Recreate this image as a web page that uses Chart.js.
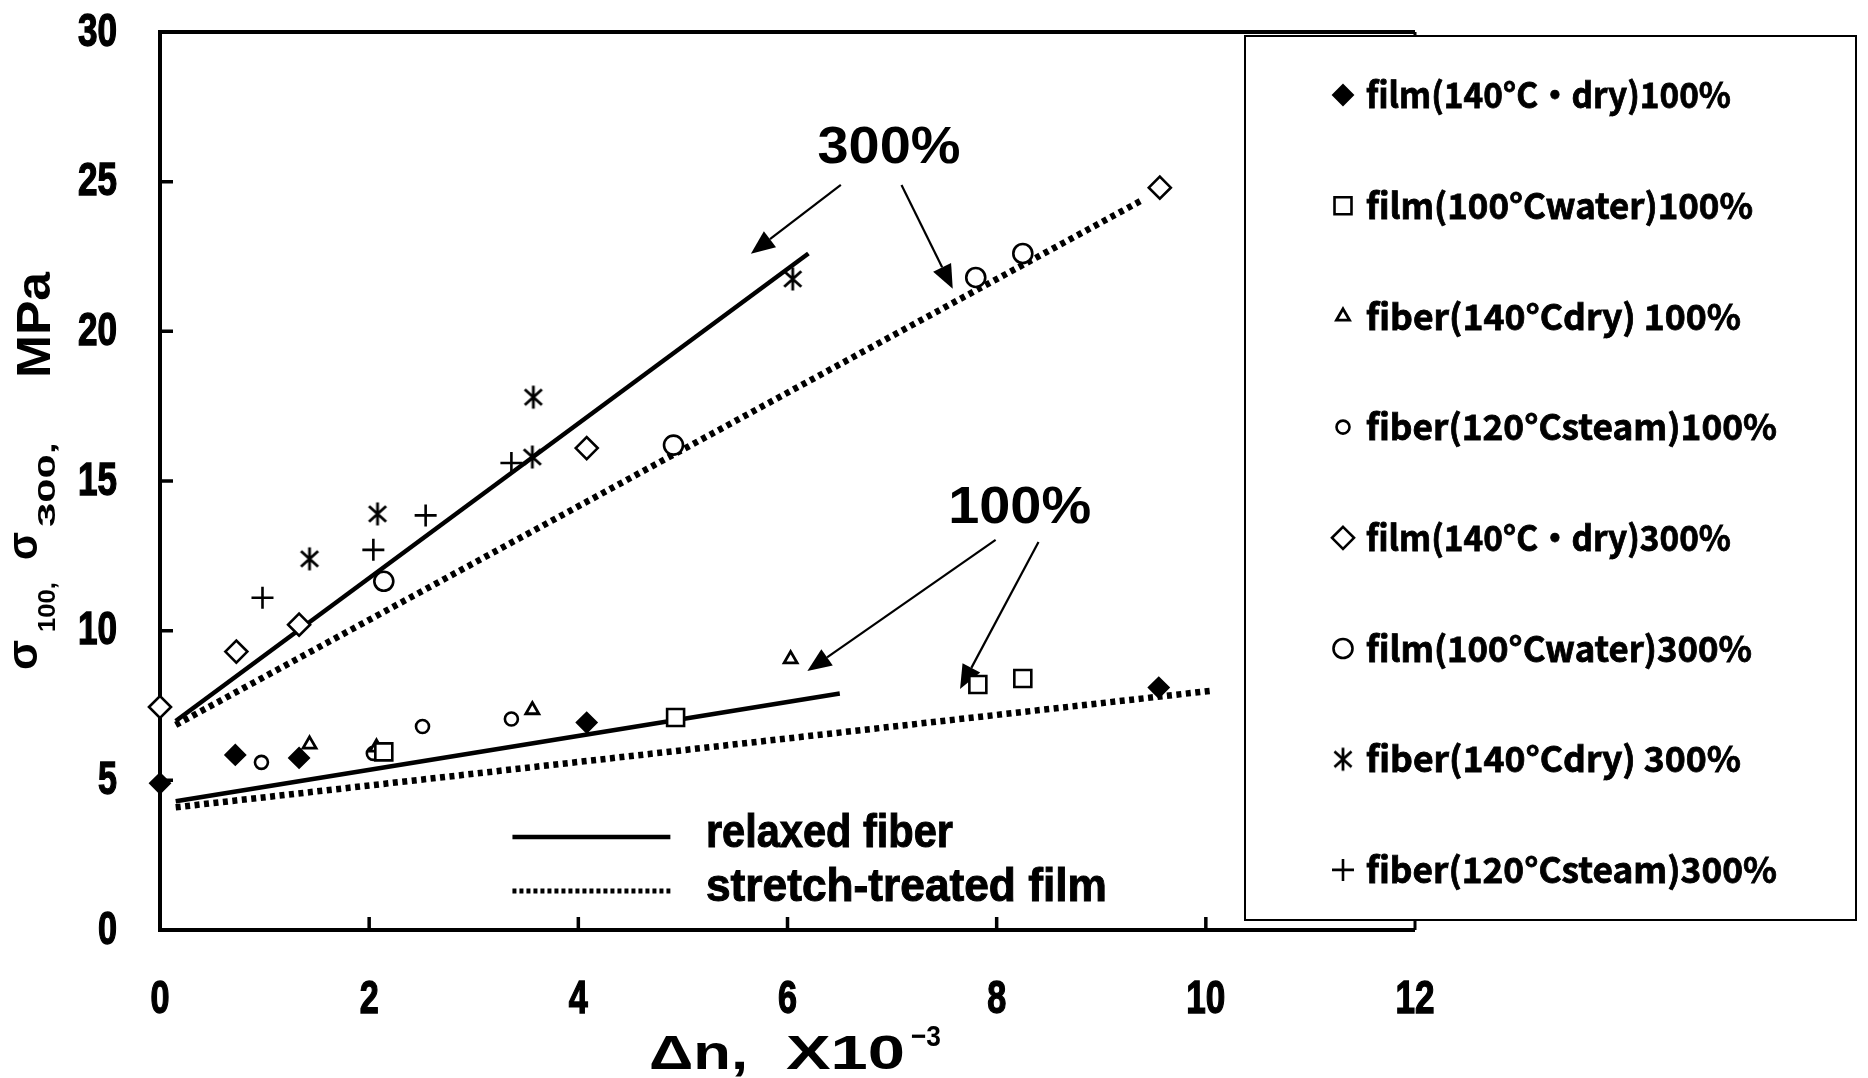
<!DOCTYPE html>
<html>
<head>
<meta charset="utf-8">
<script src="https://cdn.jsdelivr.net/npm/chart.js@4.4.1/dist/chart.umd.min.js"></script>
<style>
  html, body { margin: 0; padding: 0; background: #fff; }
  #wrap { width: 1868px; height: 1078px; position: relative; }
</style>
</head>
<body>
<div id="wrap"><canvas id="chart" width="1868" height="1078"></canvas></div>
<script>
// 軸
const xTicks = [0, 2, 4, 6, 8, 10, 12];
const yTicks = [0, 5, 10, 15, 20, 25, 30];

// 系列名 (凡例の順)
const seriesNames = [
  'film(140°C・dry)100%',
  'film(100°Cwater)100%',
  'fiber(140°Cdry) 100%',
  'fiber(120°Csteam)100%',
  'film(140°C・dry)300%',
  'film(100°Cwater)300%',
  'fiber(140°Cdry) 300%',
  'fiber(120°Csteam)300%'
];

// 100% データ
const filmDry100X = [0, 0.72, 1.33, 4.08, 9.55];
const filmDry100Y = [4.9, 5.85, 5.75, 6.93, 8.1];
const filmWater100X = [2.14, 4.93, 7.82, 8.25];
const filmWater100Y = [5.95, 7.1, 8.2, 8.4];
const fiberDry100X = [1.43, 2.07, 3.56, 6.03];
const fiberDry100Y = [6.2, 6.1, 7.35, 9.05];
const fiberSteam100X = [0.97, 2.04, 2.51, 3.36];
const fiberSteam100Y = [5.6, 5.9, 6.8, 7.05];

// 300% データ
const filmDry300X = [0, 0.73, 1.33, 4.08, 9.56];
const filmDry300Y = [7.45, 9.3, 10.2, 16.1, 24.8];
const filmWater300X = [2.14, 4.91, 7.8, 8.25];
const filmWater300Y = [11.65, 16.2, 21.8, 22.6];
const fiberDry300X = [1.43, 2.08, 3.56, 3.57, 6.05];
const fiberDry300Y = [12.4, 13.9, 15.8, 17.8, 21.75];
const fiberSteam300X = [0.98, 2.04, 2.54, 3.36];
const fiberSteam300Y = [11.1, 12.7, 13.85, 15.6];

// 近似直線
const fiber300LineX = [0.15, 6.2];
const fiber300LineY = [6.98, 22.6];
const film300LineX = [0.15, 9.4];
const film300LineY = [6.85, 24.4];
const fiber100LineX = [0.15, 6.5];
const fiber100LineY = [4.3, 7.9];
const film100LineX = [0.15, 10.07];
const film100LineY = [4.1, 8.0];

// 注記 (データ座標)
const noteLabels = ['300%', '100%'];
const noteX = [6.97, 8.22];
const noteY = [26.1, 14.07];
const arrowFromX = [6.51, 7.09, 7.99, 8.40];
const arrowFromY = [24.89, 24.89, 13.03, 12.96];
const arrowToX = [5.65, 7.58, 6.19, 7.65];
const arrowToY = [22.59, 21.42, 8.65, 8.05];

// 線の凡例
const lineLegendNames = ['relaxed fiber', 'stretch-treated film'];
const lineLegendX = [3.37, 4.88];
const lineLegendY = [3.11, 1.3];
const lineLegendTextX = 5.22;

function pts(xs, ys) {
  return xs.map((x, i) => ({ x: x, y: ys[i] }));
}

// 6本足のアスタリスク
function makeAsterisk(r, lw) {
  const c = document.createElement('canvas');
  const s = Math.ceil(2 * r + lw + 2);
  c.width = s; c.height = s;
  const g = c.getContext('2d');
  const m = s / 2;
  g.strokeStyle = '#000';
  g.lineWidth = lw;
  g.beginPath();
  g.moveTo(m, m - r); g.lineTo(m, m + r);
  const a = 48 * Math.PI / 180;
  g.moveTo(m - Math.sin(a) * r, m - Math.cos(a) * r); g.lineTo(m + Math.sin(a) * r, m + Math.cos(a) * r);
  g.moveTo(m + Math.sin(a) * r, m - Math.cos(a) * r); g.lineTo(m - Math.sin(a) * r, m + Math.cos(a) * r);
  g.stroke();
  return c;
}
const asteriskImg = makeAsterisk(11.5, 2.8);

const markerStyles = [
  { pointStyle: 'rectRot', radius: 10, fill: '#000', bw: 2 },
  { pointStyle: 'rect', radius: 12, fill: '#fff', bw: 2.6 },
  { pointStyle: 'triangle', radius: 7.5, fill: '#fff', bw: 2.8 },
  { pointStyle: 'circle', radius: 6.5, fill: '#fff', bw: 2.6 },
  { pointStyle: 'rectRot', radius: 11, fill: '#fff', bw: 2.6 },
  { pointStyle: 'circle', radius: 9.5, fill: '#fff', bw: 2.6 },
  { pointStyle: asteriskImg, radius: 11.5, fill: '#fff', bw: 2.8 },
  { pointStyle: 'cross', radius: 11, fill: '#fff', bw: 2.6 }
];

const seriesData = [
  pts(filmDry100X, filmDry100Y),
  pts(filmWater100X, filmWater100Y),
  pts(fiberDry100X, fiberDry100Y),
  pts(fiberSteam100X, fiberSteam100Y),
  pts(filmDry300X, filmDry300Y),
  pts(filmWater300X, filmWater300Y),
  pts(fiberDry300X, fiberDry300Y),
  pts(fiberSteam300X, fiberSteam300Y)
];

const solidLine = { borderColor: '#000', borderWidth: 4.5 };
const dotLine = { borderColor: '#000', borderWidth: 6.5, borderDash: [5, 4.5] };

const lineSets = [
  Object.assign({ data: pts(fiber300LineX, fiber300LineY) }, solidLine),
  Object.assign({ data: pts(film300LineX, film300LineY) }, dotLine),
  Object.assign({ data: pts(fiber100LineX, fiber100LineY) }, solidLine),
  Object.assign({ data: pts(film100LineX, film100LineY) }, dotLine)
].map(d => Object.assign(d, {
  type: 'line', showLine: true, pointRadius: 0, fill: false, order: 2,
  borderCapStyle: 'butt', tension: 0, clip: false
}));

const pointSets = seriesData.map((d, i) => ({
  label: seriesNames[i],
  data: d,
  showLine: false,
  clip: false,
  pointStyle: markerStyles[i].pointStyle,
  pointRadius: markerStyles[i].radius,
  pointBackgroundColor: markerStyles[i].fill,
  pointBorderColor: '#000',
  pointBorderWidth: markerStyles[i].bw,
  order: 1
}));

// 横方向に伸縮して幅を合わせる
function fitText(ctx, text, x, y, width, stroke) {
  const w = ctx.measureText(text).width;
  ctx.save();
  ctx.translate(x, y);
  ctx.scale(width / w, 1);
  ctx.fillText(text, 0, 0);
  if (stroke) {
    ctx.lineWidth = stroke;
    ctx.strokeStyle = ctx.fillStyle;
    ctx.strokeText(text, 0, 0);
  }
  ctx.restore();
}

function drawArrow(ctx, x1, y1, x2, y2) {
  const a = Math.atan2(y2 - y1, x2 - x1);
  const len = 24, half = 10;
  const bx = x2 - Math.cos(a) * len, by = y2 - Math.sin(a) * len;
  ctx.beginPath();
  ctx.moveTo(x1, y1);
  ctx.lineTo(bx, by);
  ctx.lineWidth = 2.2;
  ctx.stroke();
  ctx.beginPath();
  ctx.moveTo(x2, y2);
  ctx.lineTo(bx + Math.sin(a) * half, by - Math.cos(a) * half);
  ctx.lineTo(bx - Math.sin(a) * half, by + Math.cos(a) * half);
  ctx.closePath();
  ctx.fill();
}

function drawMarker(ctx, style, x, y) {
  const r = style.radius;
  ctx.save();
  ctx.lineWidth = style.bw;
  ctx.fillStyle = style.fill;
  ctx.strokeStyle = '#000';
  ctx.beginPath();
  if (style.pointStyle === 'rectRot') {
    ctx.moveTo(x, y - r); ctx.lineTo(x + r, y); ctx.lineTo(x, y + r); ctx.lineTo(x - r, y); ctx.closePath();
    ctx.fill(); ctx.stroke();
  } else if (style.pointStyle === 'rect') {
    const s = r * Math.SQRT1_2;
    ctx.rect(x - s, y - s, 2 * s, 2 * s); ctx.fill(); ctx.stroke();
  } else if (style.pointStyle === 'triangle') {
    ctx.moveTo(x, y - r); ctx.lineTo(x + r * 0.87, y + r * 0.5); ctx.lineTo(x - r * 0.87, y + r * 0.5); ctx.closePath();
    ctx.fill(); ctx.stroke();
  } else if (style.pointStyle === 'circle') {
    ctx.arc(x, y, r, 0, Math.PI * 2); ctx.fill(); ctx.stroke();
  } else if (style.pointStyle === 'cross') {
    ctx.moveTo(x - r, y); ctx.lineTo(x + r, y);
    ctx.moveTo(x, y - r); ctx.lineTo(x, y + r);
    ctx.stroke();
  } else {
    const img = style.pointStyle;
    ctx.drawImage(img, x - img.width / 2, y - img.height / 2);
  }
  ctx.restore();
}

const tickFontCss = 'bold 46px "Liberation Sans", Arial, sans-serif';

const decor = {
  id: 'decor',
  beforeDatasetsDraw(chart) {
    const ctx = chart.ctx;
    const xs = chart.scales.x, ys = chart.scales.y;
    const a = chart.chartArea;
    ctx.save();
    ctx.strokeStyle = '#000';
    ctx.fillStyle = '#000';
    ctx.lineCap = 'butt';
    // 枠
    ctx.lineWidth = 4;
    ctx.beginPath();
    ctx.moveTo(a.left, a.top); ctx.lineTo(a.right, a.top);
    ctx.moveTo(a.left, a.top - 2); ctx.lineTo(a.left, a.bottom + 2);
    ctx.moveTo(a.left - 2, a.bottom); ctx.lineTo(a.right, a.bottom);
    ctx.stroke();
    ctx.lineWidth = 3;
    ctx.beginPath();
    ctx.moveTo(a.right, a.top); ctx.lineTo(a.right, a.bottom);
    ctx.stroke();
    // 内向きの目盛り
    ctx.lineWidth = 3.5;
    ctx.beginPath();
    yTicks.slice(1, -1).forEach(v => {
      const py = ys.getPixelForValue(v);
      ctx.moveTo(a.left, py); ctx.lineTo(a.left + 13, py);
    });
    xTicks.slice(1, -1).forEach(v => {
      const px = xs.getPixelForValue(v);
      ctx.moveTo(px, a.bottom); ctx.lineTo(px, a.bottom - 13);
    });
    ctx.stroke();

    // 目盛りラベル (細身の太字)
    ctx.font = tickFontCss;
    ctx.textAlign = 'left';
    ctx.textBaseline = 'middle';
    yTicks.forEach(v => {
      const t = String(v);
      const w = t.length === 1 ? 19 : 39;
      fitText(ctx, t, 117 - w, ys.getPixelForValue(v) + 1, w, 1.4);
    });
    ctx.textBaseline = 'top';
    xTicks.forEach(v => {
      const t = String(v);
      const w = t.length === 1 ? 19 : 39;
      fitText(ctx, t, xs.getPixelForValue(v) - w / 2, 977, w, 1.4);
    });

    // 線の凡例
    const lx1 = xs.getPixelForValue(lineLegendX[0]);
    const lx2 = xs.getPixelForValue(lineLegendX[1]);
    const legendWidths = [247, 401];
    lineLegendY.forEach((v, i) => {
      const py = ys.getPixelForValue(v);
      ctx.save();
      ctx.beginPath();
      ctx.lineWidth = i === 0 ? 4.5 : 5;
      if (i === 1) ctx.setLineDash([4, 3]);
      ctx.moveTo(lx1, py); ctx.lineTo(lx2, py);
      ctx.stroke();
      ctx.restore();
      ctx.font = 'bold 46px "Liberation Sans", Arial, sans-serif';
      ctx.textBaseline = 'middle';
      ctx.textAlign = 'left';
      fitText(ctx, lineLegendNames[i], xs.getPixelForValue(lineLegendTextX), py - 3, legendWidths[i], 1);
    });

    // 注記
    ctx.font = 'bold 52px "Liberation Sans", Arial, sans-serif';
    ctx.textBaseline = 'middle';
    ctx.textAlign = 'left';
    noteLabels.forEach((t, i) => {
      const w = 143;
      fitText(ctx, t, xs.getPixelForValue(noteX[i]) - w / 2, ys.getPixelForValue(noteY[i]), w);
    });
    arrowFromX.forEach((v, i) => {
      drawArrow(ctx, xs.getPixelForValue(v), ys.getPixelForValue(arrowFromY[i]),
        xs.getPixelForValue(arrowToX[i]), ys.getPixelForValue(arrowToY[i]));
    });
    ctx.restore();
  },
  afterDraw(chart) {
    const ctx = chart.ctx;
    ctx.save();
    ctx.fillStyle = '#000';
    // x 軸タイトル
    ctx.textBaseline = 'alphabetic';
    ctx.textAlign = 'left';
    ctx.font = 'bold 48px "Liberation Sans", Arial, sans-serif';
    fitText(ctx, 'Δn,', 649, 1069, 99);
    fitText(ctx, 'X10', 786, 1069, 119);
    ctx.font = 'bold 30px "Liberation Sans", Arial, sans-serif';
    fitText(ctx, '−3', 911, 1046, 30);

    // y 軸タイトル (回転)
    ctx.save();
    ctx.translate(0, 670);
    ctx.rotate(-Math.PI / 2);
    ctx.font = 'bold 42px "Liberation Sans", Arial, sans-serif';
    fitText(ctx, 'σ', 0, 37, 30);
    fitText(ctx, 'σ', 110, 37, 28);
    ctx.font = 'bold 24px "Liberation Sans", Arial, sans-serif';
    fitText(ctx, '100,', 38, 55, 50);
    fitText(ctx, '300,', 143, 55, 85);
    ctx.font = 'bold 48px "Liberation Sans", Arial, sans-serif';
    fitText(ctx, 'MPa', 292, 50, 106);
    ctx.restore();

    // 凡例ボックス
    const box = { left: 1245, top: 36, right: 1856, bottom: 920 };
    ctx.fillStyle = '#fff';
    ctx.fillRect(box.left, box.top, box.right - box.left, box.bottom - box.top);
    ctx.strokeStyle = '#000';
    ctx.lineWidth = 2;
    ctx.strokeRect(box.left, box.top, box.right - box.left, box.bottom - box.top);
    ctx.fillStyle = '#000';
    ctx.font = 'bold 35px "Noto Sans CJK JP", sans-serif';
    ctx.textBaseline = 'middle';
    const widths = [365, 387, 375, 411, 365, 386, 375, 411];
    seriesNames.forEach((t, i) => {
      const y = 95 + i * 110.7;
      drawMarker(ctx, markerStyles[i], 1343, y);
      ctx.fillStyle = '#000';
      fitText(ctx, t, 1366, y, widths[i], 0.8);
    });
    ctx.restore();
  }
};

new Chart(document.getElementById('chart').getContext('2d'), {
  type: 'scatter',
  data: { datasets: pointSets.concat(lineSets) },
  options: {
    responsive: false,
    animation: false,
    layout: { padding: { left: 0, top: 32, right: 453, bottom: 0 } },
    plugins: { legend: { display: false }, tooltip: { enabled: false } },
    scales: {
      x: {
        type: 'linear', min: 0, max: 12,
        afterBuildTicks: s => { s.ticks = xTicks.map(v => ({ value: v })); },
        afterFit: s => { s.height = 148; s.paddingLeft = 0; s.paddingRight = 0; },
        grid: { display: false, drawTicks: false },
        border: { display: false },
        ticks: { display: false }
      },
      y: {
        type: 'linear', min: 0, max: 30,
        afterBuildTicks: s => { s.ticks = yTicks.map(v => ({ value: v })); },
        afterFit: s => { s.width = 160; s.paddingTop = 0; s.paddingBottom = 0; },
        grid: { display: false, drawTicks: false },
        border: { display: false },
        ticks: { display: false }
      }
    }
  },
  plugins: [decor]
});
</script>
</body>
</html>
